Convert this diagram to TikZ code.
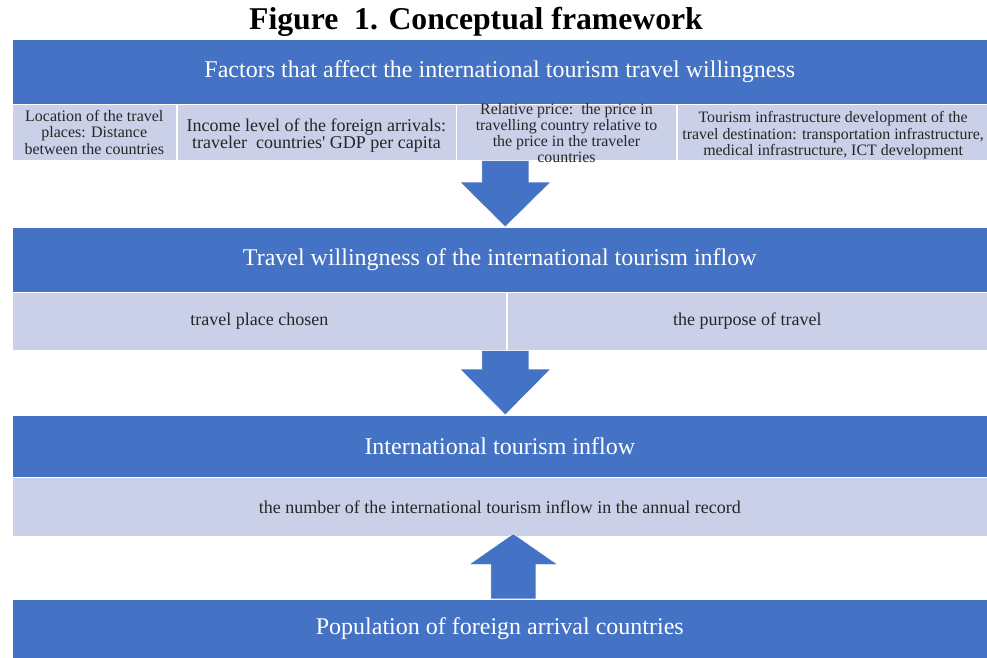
\documentclass[tikz,border=0pt]{standalone}
\usepackage{fontspec}
\setmainfont{Liberation Serif}
\usetikzlibrary{positioning,calc}
\definecolor{bandblue}{HTML}{4472C4}
\definecolor{celllight}{HTML}{C9D0E8}
\begin{document}
\begin{tikzpicture}[x=1pt,y=-1pt]
        \tikzset{Band/.style={%
                rectangle,%
                fill=bandblue,%
                draw=white,%
                line width=0.6pt,%
                text=white,%
                inner sep=0pt,%
                minimum width=975pt,%
                font=\fontsize{24}{26}\selectfont,%
            }}
        \tikzset{Cell/.style={%
                rectangle,%
                fill=celllight,%
                draw=white,%
                line width=0.6pt,%
                text=black!85,%
                inner sep=2pt,%
                align=center,%
                font=\fontsize{18}{20}\selectfont,%
            }}
        \tikzset{Block/.style={fill=bandblue, draw=white, line width=0.6pt}}

        \useasboundingbox (0,0) rectangle (987,658);

        \node[font=\bfseries\fontsize{31.7}{34}\selectfont] (title) at (476,22) {Figure\ \ 1. Conceptual framework};

        % factors
        \node[Band, anchor=north west, minimum height=65pt] (b1) at (12,39) {Factors that affect the international tourism travel willingness};
        \node[Cell, anchor=north west, minimum width=164pt, minimum height=56pt, font=\fontsize{16}{16.5}\selectfont] (c1) at (12,104) {Location of the travel\\places: Distance\\between the countries};
        \node[Cell, right=0pt of c1, minimum width=279pt, minimum height=56pt,
            label={[font=\fontsize{18}{17}\selectfont, align=center, text=black!85, yshift=-3pt]center:Income level of the foreign arrivals:\\traveler\ \ countries\textquotesingle{} GDP per capita}] (c2) {};
        \node[Cell, right=0pt of c2, minimum width=220pt, minimum height=56pt,
            label={[font=\fontsize{15.9}{16}\selectfont, align=center, text=black!85, yshift=-1pt]center:Relative price:\ \ the price in\\travelling country relative to\\the price in the traveler\\countries}] (c3) {};
        \node[Cell, right=0pt of c3, minimum width=312pt, minimum height=56pt,
            label={[font=\fontsize{15.9}{16.5}\selectfont, align=center, text=black!85, yshift=-3pt]center:Tourism infrastructure development of the\\travel destination: transportation infrastructure,\\medical infrastructure, ICT development}] (c4) {};

        % willingness
        \node[Band, anchor=north west, minimum height=65pt] (b2) at (12,227) {Travel willingness of the international tourism inflow};
        \node[Cell, anchor=north west, minimum width=494pt, minimum height=58pt] (w1) at (12,292) {travel place chosen};
        \node[Cell, right=0pt of w1, minimum width=481pt, minimum height=58pt] (w2) {the purpose of travel};

        % inflow
        \node[Band, anchor=north west, minimum height=62pt] (b3) at (12,415) {International tourism inflow};
        \node[Cell, anchor=north west, minimum width=975pt, minimum height=59pt] (r3) at (12,477) {the number of the international tourism inflow in the annual record};

        % population
        \node[Band, anchor=north west, minimum height=59pt] (b4) at (12,599) {Population of foreign arrival countries};

        % block arrows
        \coordinate (t1) at ($(b2.north)+(5.5,0)$);
        \coordinate (s1) at (c3.south -| t1);
        \fill[Block] (t1) -- ($(t1)+(45.5,-45)$) -- ($(t1)+(23.5,-45)$) -- ($(s1)+(23.5,0)$)
            -- ($(s1)+(-23.5,0)$) -- ($(t1)+(-23.5,-45)$) -- ($(t1)+(-45.5,-45)$) -- cycle;
        \coordinate (t2) at ($(b3.north)+(5.5,0)$);
        \coordinate (s2) at (w1.south -| t2);
        \fill[Block] (t2) -- ($(t2)+(45.5,-46)$) -- ($(t2)+(23.5,-46)$) -- ($(s2)+(23.5,0)$)
            -- ($(s2)+(-23.5,0)$) -- ($(t2)+(-23.5,-46)$) -- ($(t2)+(-45.5,-46)$) -- cycle;
        \coordinate (t3) at ($(r3.south)+(13.5,-3)$);
        \coordinate (s3) at (b4.north -| t3);
        \fill[Block] (t3) -- ($(t3)+(44.5,31)$) -- ($(t3)+(22.5,31)$) -- ($(s3)+(22.5,0)$)
            -- ($(s3)+(-22.5,0)$) -- ($(t3)+(-22.5,31)$) -- ($(t3)+(-44.5,31)$) -- cycle;
\end{tikzpicture}
\end{document}
